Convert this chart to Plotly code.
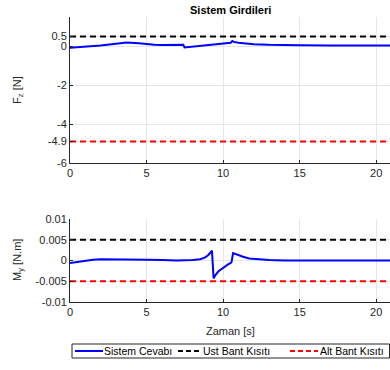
import plotly.graph_objects as go
from plotly.subplots import make_subplots

# ---- data ----
t_fz = [0, 1, 2, 3, 3.7, 4.5, 5, 5.5, 6, 7, 7.4, 7.48, 7.6, 8, 9, 10, 10.5, 10.6, 10.7, 11, 12, 13, 14, 15, 17, 20, 21]
fz = [-0.08, -0.03, 0.04, 0.13, 0.19, 0.15, 0.1, 0.07, 0.06, 0.06, 0.07, -0.06, -0.05, -0.02, 0.07, 0.16, 0.18, 0.27, 0.22, 0.18, 0.1, 0.07, 0.05, 0.05, 0.04, 0.03, 0.03]

t_my = [0, 0.5, 1, 1.5, 2, 3, 4, 5, 6, 7, 8, 8.5, 8.8, 9.0, 9.15, 9.27, 9.38, 9.5, 9.7, 10.0, 10.3, 10.5, 10.55, 10.65, 11, 11.3, 11.7, 12.2, 13, 14, 16, 21]
my = [-0.0006, -0.0003, 0.0, 0.0002, 0.0003, 0.0003, 0.0003, 0.0002, 0.0001, 0.0, 0.0001, 0.0003, 0.0007, 0.0012, 0.0018, 0.0024, -0.0043, -0.0035, -0.0026, -0.0017, -0.001, -0.0006, -0.0004, 0.0018, 0.0013, 0.0009, 0.0005, 0.0003, 0.0001, 0.0, 0.0, 0.0]

t_band = [0, 21]
fz_upper = [0.5, 0.5]
fz_lower = [-4.9, -4.9]
my_upper = [0.005, 0.005]
my_lower = [-0.005, -0.005]

fz_ticks = [-6, -4.9, -4, -2, 0, 0.5]
fz_ticktext = ["-6", "-4.9", "-4", "-2", "0", "0.5"]
my_ticks = [-0.01, -0.005, 0, 0.005, 0.01]
my_ticktext = ["-0.01", "-0.005", "0", "0.005", "0.01"]
x_ticks = [0, 5, 10, 15, 20]

names = ["Sistem Cevabı", "Ust Bant Kısıtı", "Alt Bant Kısıtı"]

# ---- figure ----
fig = make_subplots(rows=2, cols=1)
FONT = "Liberation Sans, Arial, sans-serif"
TXT = "#262626"

blue = dict(color="#0000FF", width=2)
blk = dict(color="#000000", width=2, dash="6px,4px")
red = dict(color="#FF0000", width=2, dash="6px,4px")

fig.add_trace(go.Scatter(x=t_band, y=fz_upper, mode="lines", line=blk, name=names[1]), 1, 1)
fig.add_trace(go.Scatter(x=t_band, y=fz_lower, mode="lines", line=red, name=names[2]), 1, 1)
fig.add_trace(go.Scatter(x=t_fz, y=fz, mode="lines", line=blue, name=names[0]), 1, 1)

fig.add_trace(go.Scatter(x=t_band, y=my_upper, mode="lines", line=blk, name=names[1]), 2, 1)
fig.add_trace(go.Scatter(x=t_band, y=my_lower, mode="lines", line=red, name=names[2]), 2, 1)
fig.add_trace(go.Scatter(x=t_my, y=my, mode="lines", line=blue, name=names[0]), 2, 1)

H = 285.0
W = 320.0
top_lo = (302 - 163) / H
bot_hi = (302 - 219) / H


def px(x):
    return (x - 70) / W


def py(y):
    return (302 - y) / H


axcommon = dict(showline=True, linecolor=TXT, linewidth=1, showgrid=True, gridcolor="#E6E6E6",
                gridwidth=1, ticks="inside", ticklen=3, tickcolor=TXT, zeroline=False, automargin=False,
                tickfont=dict(family=FONT, size=11, color=TXT))

fig.update_layout(
    width=390, height=370,
    margin=dict(l=70, r=0, t=17, b=68, autoexpand=False),
    paper_bgcolor="white", plot_bgcolor="white",
    font=dict(family=FONT, size=11, color=TXT),
    xaxis=dict(domain=[0, 1], range=[0, 20.9], tickvals=x_ticks, anchor="y", **axcommon),
    yaxis=dict(domain=[top_lo, 1], range=[-6, 1.5], tickvals=fz_ticks, ticktext=fz_ticktext, **axcommon),
    xaxis2=dict(domain=[0, 1], range=[0, 20.9], tickvals=x_ticks, anchor="y2", **axcommon),
    yaxis2=dict(domain=[0, bot_hi], range=[-0.01, 0.01], tickvals=my_ticks, ticktext=my_ticktext, **axcommon),
    showlegend=False,
)

fig.add_annotation(text="<b>Sistem Girdileri</b>", xref="paper", yref="paper", x=0.5, y=py(10),
                   showarrow=False, yanchor="middle", font=dict(family=FONT, size=11, color="#000000"))
fig.add_annotation(text="F<sub>z</sub> [N]", xref="paper", yref="paper", x=px(18), xanchor="center",
                   y=py(90), yanchor="middle", textangle=-90, showarrow=False,
                   font=dict(family=FONT, size=11, color=TXT))
fig.add_annotation(text="M<sub>y</sub> [N.m]", xref="paper", yref="paper", x=px(18), xanchor="center",
                   y=py(260), yanchor="middle", textangle=-90, showarrow=False,
                   font=dict(family=FONT, size=11, color=TXT))
fig.add_annotation(text="Zaman [s]", xref="paper", yref="paper", x=0.5, xanchor="center",
                   y=py(331), yanchor="middle", showarrow=False,
                   font=dict(family=FONT, size=11, color=TXT))

# ---- legend (drawn as a key box below the lower plot) ----
fig.add_shape(type="rect", xref="paper", yref="paper", x0=px(72), x1=px(389.5), y0=py(344), y1=py(358),
              line=dict(color="#262626", width=1), fillcolor="white")
leg_items = [(names[0], blue, 75, 103, 104), (names[1], blk, 178, 200, 203), (names[2], red, 290, 318, 320)]
for label, ln, x0, x1, xt in leg_items:
    lstyle = dict(color=ln["color"], width=2)
    if "dash" in ln:
        lstyle["dash"] = "5px,3px"
    fig.add_shape(type="line", xref="paper", yref="paper", x0=px(x0), x1=px(x1), y0=py(351), y1=py(351),
                  line=lstyle)
    fig.add_annotation(text=label, xref="paper", yref="paper", x=px(xt), xanchor="left", y=py(351),
                       yanchor="middle", showarrow=False, xshift=-2,
                       font=dict(family=FONT, size=10.5, color="#000000"))

fig.write_html("out.html", config={"displayModeBar": False},
               post_script="document.body.style.margin='0';")
